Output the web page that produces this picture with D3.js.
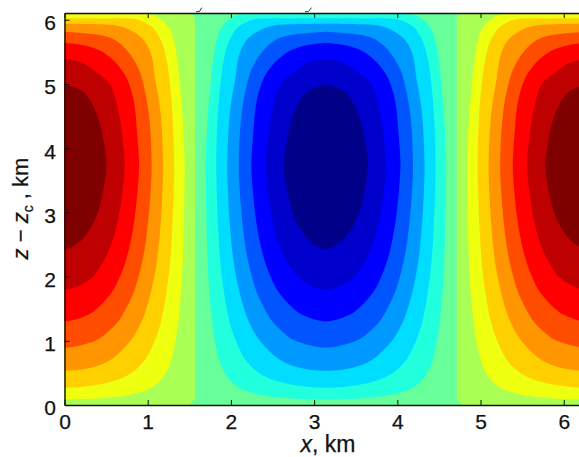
<!DOCTYPE html>
<html><head><meta charset="utf-8">
<script src="https://cdnjs.cloudflare.com/ajax/libs/d3/7.8.5/d3.min.js"></script>
<style>
html,body{margin:0;padding:0;background:#fff;overflow:hidden}
svg{display:block}
text{font-family:"Liberation Sans",Arial,sans-serif;fill:#111;stroke:#111;stroke-width:.25px}
</style></head><body>
<svg id="c" width="579" height="457"></svg>
<script>
// Half-contours [half-width from the lobe centre in km, z in km], top to bottom.
const band1 = [[0,6.106],[1.528,6.106],[1.568,6.02],[1.568,0.1],[1.508,0],[0,0]];
const band2 = [[0,6.095],[.6,6.092],[1.028,6.085],[1.148,6.02],[1.248,5.89],[1.308,5.71],[1.356,5.37],[1.38,5.09],[1.42,4.5],[1.445,3.74],[1.442,3.35],[1.436,2.83],[1.427,2.43],[1.417,2.1],[1.394,1.636],[1.369,1.3],[1.348,1.1],[1.318,.894],[1.283,.7],[1.231,.535],[1.163,.4],[1.047,.27],[.853,.18],[.5,.11],[0,.089]];
const band3 = [[0,6.022],[.427,6.022],[.825,6.015],[.948,5.97],[1.068,5.87],[1.168,5.66],[1.228,5.37],[1.26,5.09],[1.3,4.5],[1.318,3.74],[1.313,3.35],[1.298,2.83],[1.281,2.43],[1.259,2.1],[1.211,1.636],[1.159,1.3],[1.113,1.1],[1.047,.894],[.966,.7],[.841,.535],[.654,.4],[.39,.312],[0,.27]];
const band4 = [[0,5.94],[.427,5.93],[.667,5.9],[.827,5.815],[.968,5.66],[1.048,5.425],[1.088,5.09],[1.15,4.6],[1.186,3.74],[1.178,3.35],[1.156,2.83],[1.128,2.43],[1.093,2.1],[1.014,1.636],[.927,1.3],[.845,1.1],[.723,.894],[.551,.7],[.32,.58],[0,.535]];
const band5 = [[0,5.815],[.427,5.763],[.607,5.685],[.767,5.5],[.868,5.295],[.93,5.09],[1.013,4.54],[1.047,3.74],[1.036,3.35],[1.003,2.83],[.963,2.43],[.91,2.1],[.841,1.79],[.791,1.636],[.644,1.3],[.484,1.1],[.363,1.0],[0,.894]];
const band6 = [[0,5.643],[.25,5.6],[.427,5.52],[.587,5.37],[.687,5.22],[.748,5.09],[.83,4.75],[.879,4.13],[.896,3.74],[.879,3.35],[.834,2.83],[.775,2.43],[.697,2.1],[.586,1.79],[.494,1.636],[.388,1.5],[.277,1.4],[0,1.3]];
const band7 = [[0,5.384],[.2,5.34],[.427,5.14],[.547,5.0],[.654,4.54],[.699,4.13],[.723,3.74],[.699,3.35],[.634,2.83],[.541,2.43],[.403,2.1],[.30,1.95],[0,1.79]];
const band8 = [[0,4.994],[.226,4.88],[.387,4.54],[.467,4.13],[.505,3.74],[.467,3.35],[.413,3.05],[.345,2.83],[.258,2.65],[.185,2.544],[0,2.43]];
const bands = [band1,band2,band3,band4,band5,band6,band7,band8];

const warmColors = ["#aaff55","#eeff10","#ffd000","#ff9500","#ff4d00","#ff0000","#bf0000","#800000"];
const coolColors = ["#66ff99","#22ffdd","#00ddff","#0099ff","#0055ff","#0000ff","#0000cc","#000088"];

const lobeCentres = [0, 3.14159, 6.28318];
const xTicks = [0,1,2,3,4,5,6];
const zTicks = [0,1,2,3,4,5,6];
// Clipped remnants just above the top axis, [x, z] in km.
const stubA = [[1.58,6.126],[1.62,6.126],[1.65,6.19]];
const stubB = [[2.89,6.126],[2.93,6.126],[2.97,6.19]];

const x = d3.scaleLinear().domain([0,6.28318]).range([64.5,587.3]);
const y = d3.scaleLinear().domain([0,6.106]).range([405,13]);

const svg = d3.select("#c");
svg.append("defs").append("clipPath").attr("id","plot").append("rect")
  .attr("x",x(0)).attr("y",y(6.106)).attr("width",x(6.28318)-x(0)).attr("height",y(0)-y(6.106));

const g = svg.append("g").attr("clip-path","url(#plot)");
const smooth = d3.line().x(d=>x(d[0])).y(d=>y(d[1])).curve(d3.curveCatmullRom.alpha(0.5));
const straight = d3.line().x(d=>x(d[0])).y(d=>y(d[1]));

function loop(band,cx){
  const right = band.map(p=>[cx+p[0],p[1]]);
  const left = band.slice(1,-1).reverse().map(p=>[cx-p[0],p[1]]);
  return right.concat(left,[right[0]]);
}

g.append("rect").attr("x",x(0)).attr("y",y(6.106)).attr("width",x(6.28318)-x(0)).attr("height",y(0)-y(6.106)).attr("fill",coolColors[0]);

lobeCentres.forEach(cx=>{
  const colours = cx===lobeCentres[1] ? coolColors : warmColors;
  bands.forEach((band,i)=>{
    if(i===0 && cx===lobeCentres[1]) return;
    g.append("path").attr("d",(i===0?straight:smooth)(loop(band,cx))).attr("fill",colours[i]);
  });
});

[stubA,stubB].forEach(s=>svg.append("path").attr("d",straight(s)).attr("fill","none").attr("stroke","#333").attr("stroke-width",1));

function styleAxis(a){
  a.select(".domain").attr("stroke","#111").attr("stroke-width",1.4);
  a.selectAll(".tick line").attr("stroke","#111").attr("stroke-width",1);
  a.selectAll(".tick text").attr("font-size",21).attr("font-family",'"Liberation Sans",Arial,sans-serif').attr("fill","#111");
}
const bottom = svg.append("g").attr("transform",`translate(0,${y(0)})`)
  .call(d3.axisBottom(x).tickValues(xTicks).tickFormat(d3.format("d")).tickSizeInner(-5).tickSizeOuter(0).tickPadding(9));
styleAxis(bottom);
const top_ = svg.append("g").attr("transform",`translate(0,${y(6.106)})`)
  .call(d3.axisTop(x).tickValues(xTicks).tickFormat("").tickSizeInner(-5).tickSizeOuter(0));
styleAxis(top_);
const left = svg.append("g").attr("transform",`translate(${x(0)},0)`)
  .call(d3.axisLeft(y).tickValues(zTicks).tickFormat(d3.format("d")).tickSizeInner(-5).tickSizeOuter(0).tickPadding(8.5));
styleAxis(left);
left.selectAll(".tick text").attr("dy",0).attr("y",9.8);

svg.append("text").attr("x",328).attr("y",452).attr("text-anchor","middle").attr("font-size",23)
  .html('<tspan font-style="italic">x</tspan>, km');
svg.append("text").attr("transform","translate(28,208.5) rotate(-90)").attr("text-anchor","middle").attr("font-size",22)
  .html('<tspan font-style="italic">z</tspan> − <tspan font-style="italic">z</tspan><tspan font-size="14" dy="5">c</tspan><tspan dy="-5"> , km</tspan>');
</script>
</body></html>
